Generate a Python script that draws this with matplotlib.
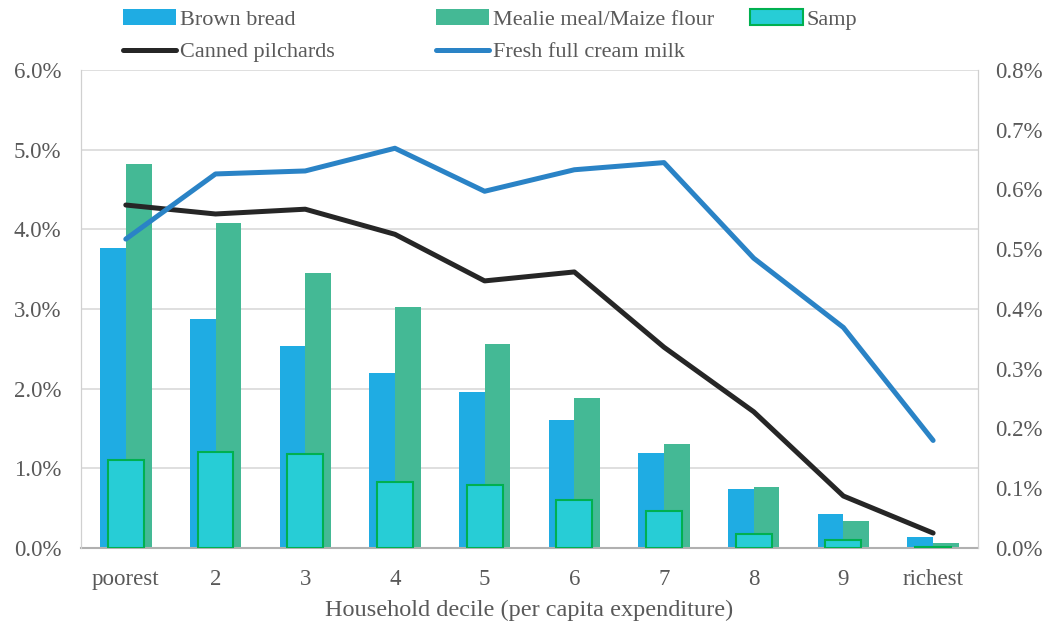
import matplotlib.pyplot as plt
import numpy as np
from matplotlib.ticker import FuncFormatter

plt.rcParams['font.family'] = ['Liberation Serif', 'DejaVu Serif']

deciles = ['poorest', '2', '3', '4', '5', '6', '7', '8', '9', 'richest']

# budget shares, left axis (%)
brown_bread = [3.77, 2.87, 2.53, 2.20, 1.96, 1.61, 1.19, 0.74, 0.43, 0.14]
mealie_meal = [4.82, 4.08, 3.45, 3.02, 2.56, 1.88, 1.30, 0.77, 0.34, 0.06]
samp = [1.10, 1.20, 1.18, 0.83, 0.79, 0.60, 0.47, 0.18, 0.10, 0.01]

# budget shares, right axis (%)
pilchards = [0.574, 0.559, 0.567, 0.525, 0.447, 0.462, 0.336, 0.228, 0.087, 0.025]
milk = [0.517, 0.626, 0.631, 0.669, 0.597, 0.633, 0.645, 0.485, 0.369, 0.180]

grey = '#595959'
x = np.arange(len(deciles))

fig = plt.figure(figsize=(10.5, 6.27), dpi=100)
ax = fig.add_axes([0.0771, 0.126, 0.8543, 0.7624])

w = 0.2865
b1 = ax.bar(x - w / 2, brown_bread, w, color='#1FACE3', label='Brown bread', zorder=2)
b2 = ax.bar(x + w / 2, mealie_meal, w, color='#44B995', label='Mealie meal/Maize flour', zorder=2)
b3 = ax.bar(x, samp, 0.40, color='#27CDD6', edgecolor='#00B050', linewidth=1.5,
            label='Samp', zorder=3)

ax.set_ylim(0, 6)
ax.set_yticks(np.arange(0, 6.1, 1))
ax.yaxis.set_major_formatter(FuncFormatter(lambda v, p: f'{v:.1f}%'))
ax.set_xlim(-0.5, len(deciles) - 0.5)
ax.set_xticks(x)
ax.set_xticklabels(deciles)
ax.grid(axis='y', color='#d9d9d9', linewidth=1.2, zorder=0)
ax.set_axisbelow(True)
ax.tick_params(length=0, labelsize=16.5, colors=grey, pad=14)
ax.tick_params(axis='x', pad=15)
ax.set_xlabel('Household decile (per capita expenditure)', fontsize=17.5, color=grey, labelpad=7)
for s in ['left', 'right', 'top']:
    ax.spines[s].set_color('#d0d0d0')
ax.spines['top'].set_visible(False)
ax.spines['bottom'].set_color('#b0b0b0')
ax.spines['bottom'].set_linewidth(1.5)

ax2 = ax.twinx()
l1, = ax2.plot(x, pilchards, color='#262626', linewidth=3.6, solid_capstyle='round',
               label='Canned pilchards')
l2, = ax2.plot(x, milk, color='#2A83C6', linewidth=3.6, solid_capstyle='round',
               label='Fresh full cream milk')
ax2.set_ylim(0, 0.8)
ax2.set_yticks(np.arange(0, 0.81, 0.1))
ax2.yaxis.set_major_formatter(FuncFormatter(lambda v, p: f'{v:.1f}%'))
ax2.tick_params(length=0, labelsize=16.5, colors=grey, pad=12)
for s in ['left', 'right']:
    ax2.spines[s].set_color('#d0d0d0')
ax2.spines['top'].set_visible(False)
ax2.spines['bottom'].set_visible(False)

# legend: three fixed-width columns like the original
columns = [[b1, l1], [b2, l2], [b3]]
col_x = [123 / 1050, 436 / 1050, 750 / 1050]
for hs, cx in zip(columns, col_x):
    fig.legend(handles=hs, labels=[h.get_label() for h in hs], loc='upper left',
               bbox_to_anchor=(cx, 1 - 9 / 627), frameon=False, borderpad=0,
               borderaxespad=0, fontsize=16, labelcolor=grey, handlelength=2.4,
               handletextpad=0.15, labelspacing=0.55)

fig.savefig('out.png', dpi=100)
